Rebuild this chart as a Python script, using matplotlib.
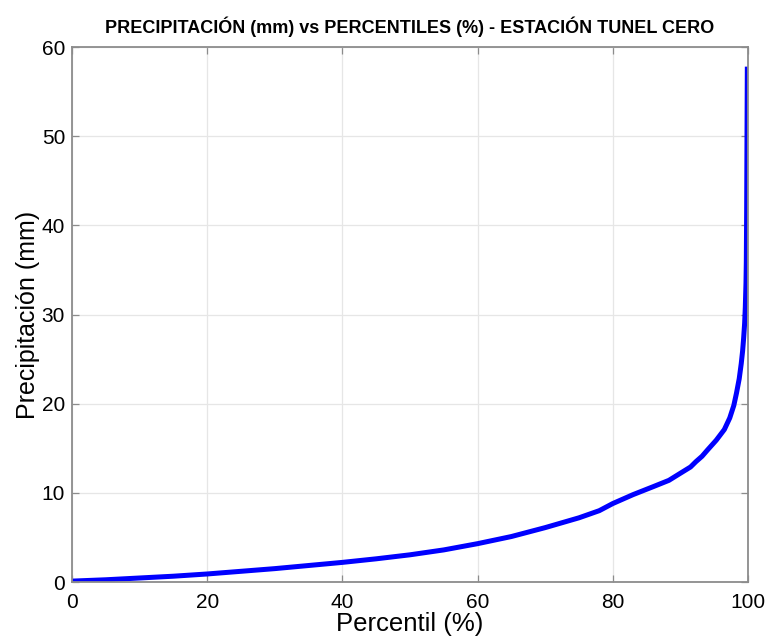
import numpy as np
import matplotlib.pyplot as plt

# Curva de percentiles
percentil = [0, 5, 10, 15, 20, 25, 30, 35, 40, 45, 50, 55, 60, 65, 70, 75, 78, 80, 83, 86, 88.3, 90,
             91.5, 92.3, 93.2, 94, 95.3, 96.5, 97.3, 97.9, 98.3, 98.7, 99.0, 99.2, 99.35, 99.5,
             99.6, 99.7, 99.75, 99.8, 99.85, 99.9]
precip = [0.1, 0.25, 0.45, 0.65, 0.9, 1.2, 1.5, 1.85, 2.2, 2.6, 3.05, 3.6, 4.3, 5.1, 6.1, 7.2, 8.0, 8.8, 9.8,
          10.7, 11.4, 12.2, 12.9, 13.5, 14.1, 14.8, 15.9, 17.1, 18.4, 19.8, 21.2, 22.8, 24.5, 25.9,
          27.3, 29.0, 30.8, 33.5, 35.9, 41.6, 49.8, 57.8]

xticks = [0, 20, 40, 60, 80, 100]
yticks = [0, 10, 20, 30, 40, 50, 60]

plt.rcParams["font.family"] = ["Liberation Sans", "DejaVu Sans"]

fig = plt.figure(figsize=(7.69, 6.39), dpi=100)
ax = fig.add_axes([0.0936, 0.0892, 0.8791, 0.8372])

ax.plot(percentil, precip, color="#0000ff", linewidth=3.6, solid_capstyle="butt",
        solid_joinstyle="round")

ax.set_xlim(0, 100)
ax.set_ylim(0, 60)
ax.set_xticks(xticks)
ax.set_yticks(yticks)
ax.grid(True, color="#e6e6e6", linewidth=0.9)
ax.set_axisbelow(True)

ax.tick_params(direction="in", length=5, width=0.9, color="#8c8c8c", labelsize=15,
               top=True, right=True)
ax.tick_params(axis="x", pad=8)
ax.tick_params(axis="y", pad=5)
for s in ax.spines.values():
    s.set_color("#8c8c8c")
    s.set_linewidth(1.3)

ax.set_xlabel("Percentil (%)", fontsize=18.5, labelpad=0)
ax.set_ylabel("Precipitación (mm)", fontsize=18, labelpad=1)
ax.set_title("PRECIPITACIÓN (mm) vs PERCENTILES (%) - ESTACIÓN TUNEL CERO",
             fontsize=13, fontweight="bold", pad=10)

fig.savefig("out.png", dpi=100)
